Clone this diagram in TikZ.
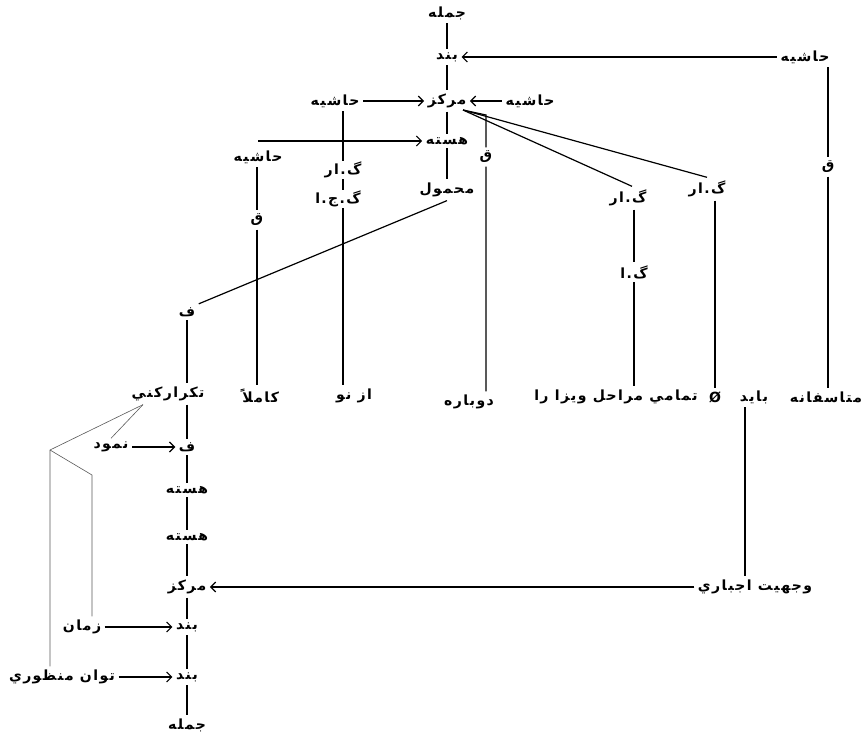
\documentclass[tikz,border=0pt]{standalone}
\usepackage{fontspec}
\usepackage{tikz}
\usetikzlibrary{arrows.meta}
\TeXXeTstate=1
\setmainfont{DejaVu Sans}
\newfontfamily\arabicfont[Script=Arabic,LetterSpace=10]{DejaVu Sans}
\newcommand{\fa}[1]{\arabicfont\bfseries\beginR #1\endR}

\begin{document}
\begin{tikzpicture}[x=1pt,y=-1pt,line width=1.2pt,
   >={Straight Barb[length=5pt,width=10pt]},
   every node/.style={inner sep=3pt,font=\fontsize{14}{16}\selectfont},
   tight/.style={inner sep=0.5pt},
   thinline/.style={draw=black!65,line width=0.6pt}]
   \useasboundingbox (0,0) rectangle (862,738);

   % upper tree
   \node (j1)  at (447,13)  {\fa{جمله}};
   \node (b1)  at (447,57)  {\fa{بند}};
   \node (h1)  at (805,57)  {\fa{حاشيه}};
   \node (m1)  at (447,101) {\fa{مركز}};
   \node (h2)  at (335,101) {\fa{حاشيه}};
   \node (h4)  at (530,101) {\fa{حاشيه}};
   \node (hs1) at (447,141) {\fa{هسته}};
   \node (h3)  at (258,157) {\fa{حاشيه}};
   \node (q1)  at (828,167) {\fa{ق}};
   \node[tight] (g1) at (343,170) {\fa{گ.ار}};
   \node (q2)  at (486,157) {\fa{ق}};
   \node (mh)  at (447,190) {\fa{محمول}};
   \node (g4)  at (707,189) {\fa{گ.ار}};
   \node[tight] (g2) at (338,199) {\fa{گ.ج.ا}};
   \node (g3)  at (628,198) {\fa{گ.ار}};
   \node (q3)  at (257,220) {\fa{ق}};
   \node (g5)  at (634,272) {\fa{گ.ا}};
   \node (f1)  at (187,312) {\fa{ف}};

   % words
   \node (tak) at (168,394) {\fa{تكراركني}};
   \node (kam) at (260,396) {\fa{كاملاً}};
   \node (azn) at (354,396) {\fa{از نو}};
   \node (dob) at (469,402) {\fa{دوباره}};
   \node (tam) at (616,397) {\fa{تمامي مراحل ويزا را}};
   \node (emp) at (715,397) {\bfseries Ø};
   \node (bay) at (754,397) {\fa{بايد}};
   \node (mot) at (826,397) {\fa{متاسفانه}};

   % lower tree
   \node (f2)  at (187,447) {\fa{ف}};
   \node (nem) at (111,447) {\fa{نمود}};
   \node (hs2) at (187,490) {\fa{هسته}};
   \node (hs3) at (187,537) {\fa{هسته}};
   \node (m2)  at (187,587) {\fa{مركز}};
   \node (vj)  at (755,587) {\fa{وجهيت اجباري}};
   \node (b2)  at (187,627) {\fa{بند}};
   \node (zam) at (82,627)  {\fa{زمان}};
   \node (b3)  at (187,677) {\fa{بند}};
   \node (tav) at (62,677)  {\fa{توان منظوري}};
   \node (j2)  at (187,725) {\fa{جمله}};

   \coordinate (mk) at (463,110);
   \coordinate (qk) at (486,115);
   \coordinate (t1) at (50,450);
   \coordinate (t2) at (92,475);

   \draw (j1) -- (b1) -- (m1) -- (hs1) -- (mh);
   \draw[->] (h1) -- (b1);
   \draw[->] (h2) -- (m1);
   \draw[->] (h4) -- (m1);
   \draw[->] (h3.north |- hs1) -- (hs1);
   \draw (q1 |- h1.south) -- (q1) -- (q1 |- mot.north);
   \draw (g1 |- h2.south) -- (g1) -- (g1 |- g2.north);
   \draw (g1 |- g2.south) -- (g1 |- azn.north);
   \draw (q3 |- h3.south) -- (q3) -- (q3 |- kam.north);
   \draw (mk) -- ([xshift=4pt]g3.north);
   \draw (mk) -- (g4.north);
   \draw (mk) -- (qk) -- (q2) -- (q2 |- dob.north);
   \draw (g5 |- g3.south) -- (g5) -- (g5 |- tam.north);
   \draw (emp |- g4.south) -- (emp);
   \draw (mh.south) -- (f1.north east);

   \draw (f1) -- (f1 |- tak.north);
   \draw (f1 |- tak.south) -- (f2) -- (hs2) -- (hs3) -- (m2) -- (b2) -- (b3) -- (j2);
   \draw[->] (nem) -- (f2);
   \draw[->] (zam) -- (b2);
   \draw[->] (tav) -- (b3);
   \draw[->] (vj) -- (m2);
   \draw ([xshift=-9pt]bay.south) -- ([xshift=-9pt]bay.south |- vj.north);

   \draw[thinline] ([xshift=15pt]tak.south west) -- (nem.north);
   \draw[thinline] ([xshift=15pt]tak.south west) -- (t1) -- (t1 |- tav.north);
   \draw[thinline] (t1) -- (t2) -- (t2 |- zam.north);
\end{tikzpicture}
\end{document}
